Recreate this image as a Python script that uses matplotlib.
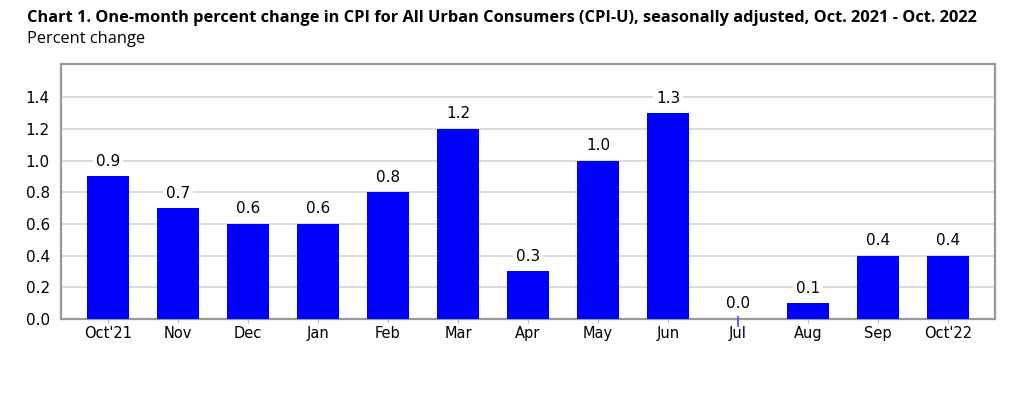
import numpy as np
import matplotlib.pyplot as plt

months = ["Oct'21", "Nov", "Dec", "Jan", "Feb", "Mar", "Apr",
          "May", "Jun", "Jul", "Aug", "Sep", "Oct'22"]
pct_change = [0.9, 0.7, 0.6, 0.6, 0.8, 1.2, 0.3, 1.0, 1.3, 0.0, 0.1, 0.4, 0.4]
yticks = [0.0, 0.2, 0.4, 0.6, 0.8, 1.0, 1.2, 1.4]

fig = plt.figure(figsize=(10.24, 3.93), dpi=100)
ax = fig.add_axes([0.0596, 0.1883, 0.9121, 0.6487])

x = np.arange(len(months))
ax.bar(x, pct_change, width=0.59, color='#0000ff', zorder=3)
# Jul is zero, shown as a thin blue stub
ax.vlines(x[9], -0.05, 0.02, color='#4a4aff', lw=1.2, zorder=4, clip_on=False)

for xi, v in zip(x, pct_change):
    ax.text(xi, v + 0.095, f"{v:.1f}", ha='center', va='center', fontsize=11,
            zorder=5, bbox=dict(facecolor='white', edgecolor='none', pad=2))

ax.set_xlim(-0.67, 12.67)
ax.set_ylim(0, 1.61)
ax.set_yticks(yticks)
ax.set_yticklabels([f"{t:.1f}" for t in yticks], fontsize=11)
ax.set_xticks(x)
ax.set_xticklabels(months, fontsize=10.5)
ax.tick_params(axis='y', length=0, pad=8)
ax.tick_params(axis='x', length=3, color='#bbbbbb', pad=2)
ax.yaxis.grid(True, color='#d9d9d9', lw=1.3, zorder=0)
for s in ax.spines.values():
    s.set_color('#999999')
    s.set_linewidth(1.6)

fig.text(0.026, 0.955, "Chart 1. One-month percent change in CPI for All Urban Consumers (CPI-U), seasonally adjusted, Oct. 2021 - Oct. 2022",
         fontsize=11.8, fontweight='bold', family='Open Sans', va='center')
fig.text(0.026, 0.9, "Percent change", fontsize=11.8, family='Open Sans', va='center')

fig.savefig('out.png', dpi=100)
